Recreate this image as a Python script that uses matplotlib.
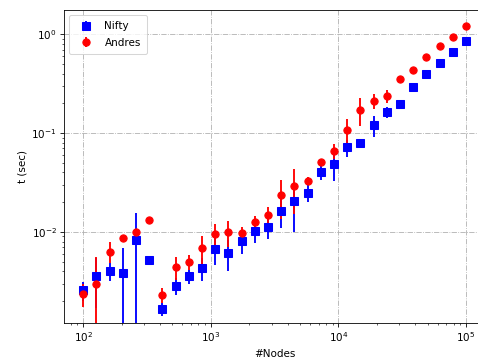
"""Timing of Nifty vs Andres against graph size"""

import numpy as np
from matplotlib import pyplot as plt

# graph sizes (log spaced, 100 .. 1e5)
nodes = [100, 127, 161, 204, 259, 329, 418, 530, 672, 853,
         1082, 1374, 1743, 2212, 2807, 3562, 4520, 5736, 7278, 9237,
         11721, 14873, 18874, 23950, 30392, 38566, 48939, 62101, 78804, 100000]

# mean run time and std in seconds
t_nifty = [0.00257, 0.00361, 0.00400, 0.00388, 0.00830, 0.00525, 0.00166, 0.00284, 0.00356, 0.00432,
           0.00668, 0.00618, 0.00817, 0.01031, 0.01111, 0.0163, 0.0207, 0.0250, 0.0407, 0.0491,
           0.0719, 0.0789, 0.1209, 0.1625, 0.197, 0.291, 0.397, 0.509, 0.658, 0.850]
std_nifty = [0.00057, 0.0019, 0.0008, 0.0030, 0.0074, 0.0001, 0.00025, 0.00055, 0.0006, 0.0011,
             0.0021, 0.0022, 0.0022, 0.0025, 0.0027, 0.0054, 0.0106, 0.0048, 0.0070, 0.016,
             0.014, 0.006, 0.029, 0.020, 0.015, 0.005, 0.006, 0.007, 0.008, 0.010]

t_andres = [0.00236, 0.00300, 0.00632, 0.00863, 0.0100, 0.01313, 0.00232, 0.00443, 0.00501, 0.00684,
            0.00961, 0.0100, 0.00966, 0.01257, 0.01493, 0.0235, 0.0292, 0.0330, 0.0511, 0.0660,
            0.108, 0.1715, 0.2115, 0.236, 0.356, 0.435, 0.585, 0.756, 0.946, 1.213]
std_andres = [0.0006, 0.0026, 0.0015, 0.0005, 0.0008, 0.0005, 0.0004, 0.0012, 0.0009, 0.0022,
              0.0024, 0.0030, 0.0015, 0.0020, 0.0030, 0.010, 0.014, 0.003, 0.003, 0.011,
              0.030, 0.053, 0.037, 0.035, 0.020, 0.020, 0.030, 0.030, 0.040, 0.050]

# default 6.4in wide figure, rendered small
dpi = 74.7
fig = plt.figure(figsize=(478 / dpi, 364 / dpi), dpi=dpi)
ax = fig.add_axes([0.1339, 0.1118, 0.8808, 0.8607])

ax.errorbar(nodes, t_nifty, yerr=std_nifty, fmt='bs', ms=7, elinewidth=1.8, label='Nifty')
ax.errorbar(nodes, t_andres, yerr=std_andres, fmt='ro', ms=7, elinewidth=1.8, label='Andres')

ax.set_xscale('log')
ax.set_yscale('log')
ax.set_xlim(70.8, 1.41e5)
ax.set_ylim(0.00119, 1.76)
ax.set_xlabel('#Nodes')
ax.set_ylabel('t (sec)')
ax.grid(True, which='major', linestyle='-.')
ax.legend(loc='upper left', borderpad=0.6, labelspacing=0.6)

fig.savefig('out.png', dpi=dpi)
